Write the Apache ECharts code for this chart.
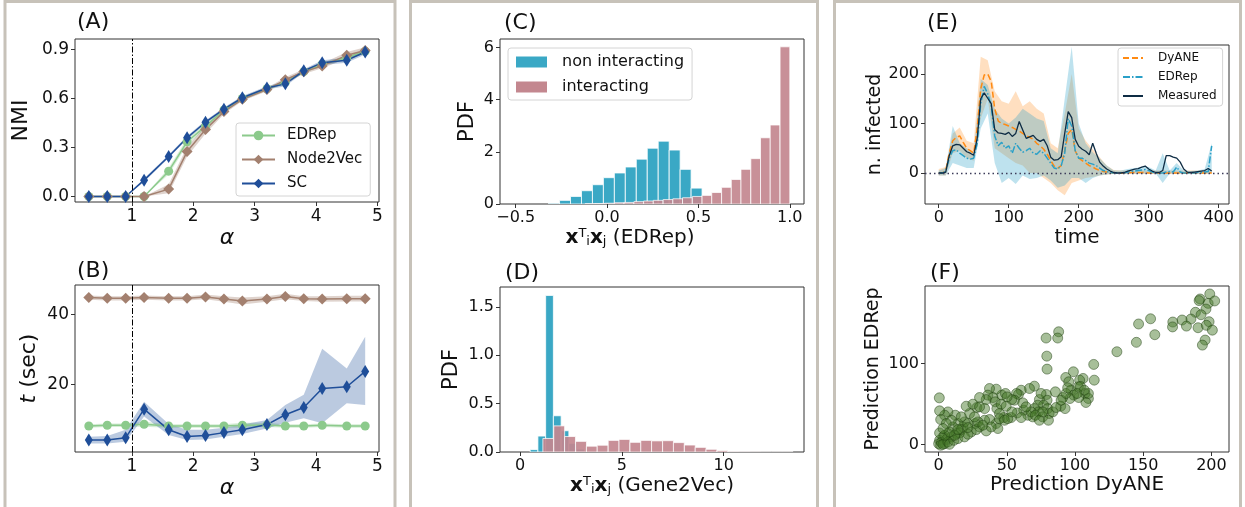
<!DOCTYPE html>
<html>
<head>
<meta charset="utf-8">
<script src="https://cdn.jsdelivr.net/npm/echarts@6/dist/echarts.min.js"></script>
<style>
  html, body { margin: 0; padding: 0; background: #fff; }
  #chart { width: 1245px; height: 507px; }
</style>
</head>
<body>
<div id="chart"></div>
<script>
// ---- data ----
const alpha = [0.3, 0.6, 0.9, 1.2, 1.6, 1.9, 2.2, 2.5, 2.8, 3.2, 3.5, 3.8, 4.1, 4.5, 4.8]

// (A) NMI
const nmiEDRep   = [0, 0, 0, 0.0, 0.155, 0.335, 0.43, 0.53, 0.6, 0.66, 0.7, 0.765, 0.81, 0.85, 0.89]
const nmiEDRepLo = [0, 0, 0, 0.0, 0.135, 0.315, 0.415, 0.52, 0.59, 0.65, 0.69, 0.755, 0.80, 0.84, 0.875]
const nmiEDRepHi = [0, 0, 0, 0.0, 0.175, 0.355, 0.445, 0.54, 0.61, 0.67, 0.71, 0.775, 0.82, 0.86, 0.905]
const nmiN2V     = [0, 0, 0, 0.0, 0.045, 0.275, 0.41, 0.52, 0.595, 0.655, 0.715, 0.765, 0.80, 0.865, 0.895]
const nmiN2VLo   = [0, 0, 0, 0.0, 0.02, 0.245, 0.385, 0.505, 0.585, 0.645, 0.70, 0.75, 0.785, 0.845, 0.875]
const nmiN2VHi   = [0, 0, 0, 0.0, 0.075, 0.305, 0.435, 0.535, 0.605, 0.665, 0.73, 0.78, 0.815, 0.885, 0.915]
const nmiSC      = [0, 0, 0, 0.10, 0.245, 0.36, 0.455, 0.535, 0.605, 0.665, 0.69, 0.77, 0.82, 0.835, 0.885]
const nmiSCLo    = [0, 0, 0, 0.09, 0.235, 0.35, 0.445, 0.525, 0.595, 0.655, 0.675, 0.76, 0.805, 0.82, 0.87]
const nmiSCHi    = [0, 0, 0, 0.11, 0.255, 0.37, 0.465, 0.545, 0.615, 0.675, 0.705, 0.78, 0.835, 0.85, 0.9]

// (B) time in seconds
const tEDRep   = [8.1, 8.3, 8.3, 8.6, 8.1, 8.1, 8.1, 8.1, 8.3, 8.4, 8.1, 8.1, 8.3, 8.1, 8.1]
const tEDRepLo = [7.6, 7.8, 7.8, 7.9, 7.6, 7.6, 7.6, 7.6, 7.6, 7.8, 7.6, 7.6, 7.8, 7.6, 7.6]
const tEDRepHi = [8.6, 8.8, 8.8, 9.3, 8.6, 8.6, 8.6, 8.6, 9.0, 9.0, 8.6, 8.6, 8.8, 8.6, 8.6]
const tN2V     = [44.8, 44.6, 44.6, 44.8, 44.6, 44.6, 45.0, 44.4, 43.8, 44.4, 45.1, 44.5, 44.4, 44.5, 44.5]
const tN2VLo   = [44.2, 44.0, 44.0, 44.2, 44.0, 44.0, 44.3, 43.6, 42.8, 43.6, 44.3, 43.8, 43.6, 43.7, 43.7]
const tN2VHi   = [45.4, 45.2, 45.2, 45.4, 45.2, 45.2, 45.7, 45.2, 44.8, 45.2, 45.9, 45.2, 45.2, 45.3, 45.3]
const tSC      = [4.1, 4.1, 4.7, 12.9, 7.0, 5.1, 5.4, 6.2, 7.0, 8.5, 11.3, 13.4, 18.8, 19.3, 23.7]
const tSCLo    = [3.1, 3.1, 3.6, 10.8, 5.5, 4.1, 4.2, 5.0, 5.8, 7.4, 9.0, 10.3, 8.9, 14.6, 14.1]
const tSCHi    = [5.0, 5.2, 7.0, 15.0, 8.7, 7.0, 7.0, 7.6, 8.5, 9.8, 14.1, 17.0, 30.2, 24.5, 33.6]

// (C) histogram EDRep, bin left edges and heights
const cNonLeft  = [-0.32, -0.26, -0.20, -0.14, -0.08, -0.02, 0.04, 0.10, 0.16, 0.22, 0.28, 0.34, 0.40, 0.46]
const cNonPdf   = [0.03, 0.14, 0.29, 0.51, 0.74, 1.01, 1.19, 1.42, 1.72, 2.14, 2.41, 2.07, 1.33, 0.61]
const cNonWidth = 0.06
const cIntLeft  = [-0.12, -0.067, -0.013, 0.04, 0.093, 0.147, 0.2, 0.253, 0.307, 0.36, 0.413, 0.467, 0.52, 0.573, 0.627, 0.68, 0.733, 0.787, 0.84, 0.893, 0.947]
const cIntPdf   = [0.01, 0.02, 0.03, 0.05, 0.06, 0.09, 0.115, 0.14, 0.17, 0.2, 0.24, 0.29, 0.33, 0.44, 0.64, 0.94, 1.33, 1.74, 2.54, 3.03, 6.03]
const cIntWidth = 0.0533

// (D) histogram Gene2Vec
const dNonLeft  = [0.5, 0.88, 1.26, 1.64, 2.02, 2.40, 2.78]
const dNonPdf   = [0.025, 0.165, 1.62, 0.375, 0.22, 0.09, 0.03]
const dNonWidth = 0.38
const dIntLeft  = [1.124, 1.658, 2.19, 2.73, 3.26, 3.79, 4.33, 4.86, 5.40, 5.93, 6.46, 7.00, 7.53, 8.07, 8.60, 9.13, 9.67, 10.20, 10.74, 11.27, 11.80, 12.34, 12.87]
const dIntPdf   = [0.14, 0.27, 0.16, 0.11, 0.06, 0.07, 0.12, 0.13, 0.10, 0.12, 0.115, 0.117, 0.097, 0.072, 0.048, 0.028, 0.014, 0.006, 0.003, 0.002, 0.001, 0.001, 0.001]
const dIntWidth = 0.534

// (E) epidemic curves
const eTime = [0, 5, 10, 15, 20, 25, 30, 35, 40, 45, 50, 55, 60, 65, 70, 75, 80, 85, 90, 95,
  100, 105, 110, 115, 120, 125, 130, 135, 140, 145, 150, 155, 160, 165, 170, 175, 180, 185, 190, 195,
  200, 205, 210, 215, 220, 225, 230, 235, 240, 245, 250, 255, 260, 265, 270, 275, 280, 285, 290, 295,
  300, 305, 310, 315, 320, 325, 330, 335, 340, 345, 350, 355, 360, 365, 370, 375, 380, 385, 390]
const measured = [0, 0, 2, 35, 55, 58, 57, 50, 43, 40, 36, 70, 150, 162, 151, 140, 88, 81, 80, 78,
  82, 74, 80, 104, 87, 70, 73, 76, 68, 64, 68, 55, 32, 26, 27, 33, 80, 124, 112, 68,
  54, 48, 44, 37, 60, 40, 22, 14, 8, 4, 1, 0, 0, 1, 4, 6, 8, 9, 12, 14,
  8, 4, 1, 1, 5, 35, 35, 32, 30, 22, 8, 2, 1, 2, 3, 4, 5, 9, 4]
const dyane = [0, 0, 5, 40, 65, 72, 75, 62, 50, 45, 40, 90, 170, 198, 200, 185, 130, 105, 100, 98,
  95, 92, 88, 85, 80, 75, 72, 68, 60, 55, 48, 38, 25, 14, 10, 15, 45, 80, 88, 45,
  30, 25, 20, 15, 12, 8, 5, 3, 2, 1, 0, 0, 0, 0, 0, 1, 1, 1, 1, 1,
  0, 0, 0, 0, 0, 0, 0, 0, 0, 0, 0, 0, 0, 0, 0, 0, 0, 1, 0]
const edrep = [0, 0, 3, 30, 45, 47, 40, 35, 30, 28, 30, 60, 140, 175, 160, 135, 75, 55, 62, 50,
  55, 40, 60, 50, 42, 45, 50, 40, 38, 45, 40, 30, 20, 10, 8, 15, 40, 110, 95, 45,
  30, 30, 25, 20, 18, 15, 10, 5, 3, 1, 0, 0, 0, 0, 2, 3, 4, 5, 6, 7,
  5, 2, 0, 0, 0, 2, 3, 2, 12, 2, 0, 0, 0, 0, 1, 1, 2, 3, 55]
const bandTime = [0, 10, 20, 30, 40, 50, 60, 70, 80, 90, 100, 110, 120, 130, 140, 150, 160, 170, 180, 190,
  200, 210, 220, 230, 240, 250, 260, 270, 280, 290, 300, 310, 320, 330, 340, 350, 360, 370, 380, 390]
const dyaneLo = [-5, -5, 40, 45, 30, 25, 110, 150, 50, 40, 30, 20, 15, 0, 0, -10, -20, -35, -45, -20,
  -15, -10, -8, -5, -3, -2, -2, -2, -2, -2, -2, -2, -2, -2, -2, -2, -2, -2, -2, -2]
const dyaneHi = [8, 12, 80, 92, 65, 60, 235, 228, 165, 145, 140, 165, 135, 145, 130, 120, 60, 50, 120, 200,
  90, 65, 48, 32, 15, 6, 5, 5, 5, 5, 5, 5, 5, 5, 5, 5, 5, 5, 5, 5]
const edrepLo = [-5, -5, 20, 15, 10, 10, 90, 120, 20, -20, -10, -22, -5, -12, -10, -5, -15, -30, -25, -10,
  -10, -20, -10, -5, -3, -1, -1, -1, -1, -1, -1, -1, -20, -1, -1, -1, -1, -1, -1, -1]
const edrepHi = [5, 10, 95, 60, 50, 40, 190, 178, 130, 110, 100, 112, 130, 120, 110, 105, 50, 40, 150, 255,
  100, 60, 42, 30, 15, 5, 5, 8, 10, 12, 12, 5, 40, 5, 20, 5, 4, 5, 8, 60]

// (F) predictions
const fDyANE = [198.8, 191.7, 191, 197.6, 202.4, 196, 188.3, 192.4, 185, 178.5, 171.7, 171.5, 181.7, 190.2, 198.3, 196.3, 200.7, 195.4, 193.4,
  155.4, 146.6, 158.5, 145, 130.7, 88, 87.3, 78.8, 79.3, 79.5, 113.7, 114.1, 98.8, 93.2, 105.9, 103.4, 95.4, 97, 102.4, 107.3, 109.8,
  108, 99, 96.3, 91, 89.5, 92.7, 85.6, 79, 79.5, 73.9, 77, 72.7, 70.2, 73.2, 80, 81, 76.3, 69, 80.5, 65.4, 62.4, 70.2, 66.6, 60.5,
  58.5, 57.1, 55.6, 61.7, 53.6, 57.6, 53.2, 47.8, 46.3, 49, 50.2, 42.2, 37.3, 36.1, 39.8, 34.9, 30, 28, 33.7, 41.5, 42.7, 45.8, 44.6,
  42.2, 43.4, 44.6, 37.3, 33.7, 30, 26.8, 22.7, 20.2, 25.1, 30, 21.5, 17.8, 19, 14.1, 12.2, 6.8, 4.4, 0.5, 0.7, 1.5, 10.5, 6.8, 3.2,
  5.6, 9.3, 13, 0.7, 0, 2, 4.4, 0.7, 15.4, 16.6, 23.9, 27.6, 34.9, 38.5, 48.3, 50.7, 53.7, 49.5, 67.8, 71, 73.9, 76.3, 60.5, 64.1,
  75.1, 83.7, 86.1, 89.8, 93.4, 94.6, 104, 109.8, 106.8, 102.7, 101.5, 1.5, 3.2, 6.8, 8, 11.2, 14.1, 19, 21.5, 4.4, 11.7, 8, 14.1,
  21.5, 28.8, 32.4, 26.3, 16.6, 9.3, 5.6, 3.2]
const fEDRep = [185.6, 179.4, 177.4, 174, 177, 167, 163, 160, 154.7, 153.5, 151, 145, 146, 144, 151.4, 147, 141, 128.8, 122.6,
  155, 148.6, 135.4, 126, 114.4, 139, 131.3, 131.3, 109, 93, 98.8, 79.4, 89.7, 82.7, 81.5, 79.4, 77.4, 67, 71.2, 63, 56.8,
  51.9, 61, 56.8, 58, 47.3, 44.4, 65, 61.7, 54.7, 55.5, 48.6, 48.6, 44.4, 40.3, 44.4, 38.3, 34.2, 34.2, 30, 36.2, 42.4, 72, 69.1, 67,
  61.7, 63, 54.7, 51.4, 55.5, 39, 33.3, 33.3, 61, 63, 58.8, 68.3, 69.1, 61, 58, 55.5, 58, 45.7, 44.4, 52.7, 44.4, 49.8, 38.3,
  26, 19.8, 32, 30.9, 30, 21.8, 26, 38.3, 47.3, 49.8, 46.5, 26, 21.8, 28, 26, 36.2, 40.3, 36.2, 57.6, 41.6, 30.9, 21.8, 13.6, 9.5,
  6.2, 9.5, 13.6, 5.3, 1.2, 2.5, 1.2, 14.4, 14.4, 18.5, 15.6, 18.5, 16.9, 21.8, 30, 32, 40.3, 47.3, 40.3, 36.2, 30, 40.3, 33.3, 46.5,
  63, 40.3, 45.7, 54.7, 63, 70, 71.6, 63, 67, 58, 63, -0.8, 0.4, 3.3, 0.4, 5.3, 7.4, 9.5, 12.8, 11.5, 11.5, 15.6, 18.5,
  21, 28, 23.9, 34.2, 34.2, 30, 26, 19.8]

// ---- styling ----
const FONT = 'DejaVu Sans'
const GREEN = '#8cca8c', BROWN = '#a3806f', SCBLUE = '#1f4e99'
const HBLUE = '#3aa8c5', HPINK = '#c3878f'
const ORANGE = '#ff8a12', EBLUE = '#2aa0c8', MEAS = '#0e2c44'

const chart = echarts.init(document.getElementById('chart'), null, { renderer: 'canvas' })

const grids = [
  { left: 75, top: 39, width: 304, height: 163 },   // A
  { left: 75, top: 285, width: 304, height: 167 },  // B
  { left: 500, top: 39, width: 304, height: 165 },  // C
  { left: 500, top: 287, width: 304, height: 165 }, // D
  { left: 925, top: 45, width: 304, height: 159 },  // E
  { left: 925, top: 286, width: 304, height: 166 }  // F
].map(g => Object.assign({ show: true, borderColor: '#333', borderWidth: 1, backgroundColor: 'transparent', outerBoundsMode: 'none' }, g))

function axis(gi, min, max, ticks, fmt, size, extra) {
  return Object.assign({
    type: 'value', gridIndex: gi, min, max,
    axisLine: { show: false, onZero: false },
    splitLine: { show: false },
    axisTick: { show: true, customValues: ticks, length: 4, lineStyle: { color: '#333' } },
    axisLabel: { customValues: ticks, formatter: fmt, fontFamily: FONT, fontSize: size, color: '#111', margin: 6 },
    nameTextStyle: { fontFamily: FONT, color: '#111' }
  }, extra || {})
}
const fix1 = v => v.toFixed(1)
const signed = v => (v < 0 ? '\u2212' : '') + Math.abs(v).toFixed(1)
const int = v => String(Math.round(v))

const xmath = {
  b: { fontFamily: FONT, fontWeight: 'bold', fontSize: 20, color: '#111' },
  sup: { fontFamily: FONT, fontSize: 13, color: '#111', verticalAlign: 'top', padding: [0, 0, 8, 0] },
  sub: { fontFamily: FONT, fontSize: 13, color: '#111', verticalAlign: 'bottom', padding: [8, 0, 0, 0] },
  t: { fontFamily: FONT, fontSize: 20, color: '#111' }
}

const xAxes = [
  axis(0, 0.075, 5.025, [1, 2, 3, 4, 5], int, 17, { name: '\u03b1', nameLocation: 'middle', nameGap: 25, nameTextStyle: { fontFamily: FONT, fontSize: 22, fontStyle: 'italic', color: '#111' } }),
  axis(1, 0.075, 5.025, [1, 2, 3, 4, 5], int, 17, { name: '\u03b1', nameLocation: 'middle', nameGap: 25, nameTextStyle: { fontFamily: FONT, fontSize: 22, fontStyle: 'italic', color: '#111' } }),
  axis(2, -0.586, 1.078, [-0.5, 0, 0.5, 1], signed, 16, { name: '{b|x}{sup|T}{sub|i}{b|x}{sub|j}{t| (EDRep)}', nameLocation: 'middle', nameGap: 22, nameTextStyle: { rich: xmath, padding: [0, 44, 0, 0] } }),
  axis(3, -0.98, 13.94, [0, 5, 10], int, 16, { name: '{b|x}{sup|T}{sub|i}{b|x}{sub|j}{t| (Gene2Vec)}', nameLocation: 'middle', nameGap: 22, nameTextStyle: { rich: xmath } }),
  axis(4, -19.6, 414.7, [0, 100, 200, 300, 400], int, 16, { name: 'time', nameLocation: 'middle', nameGap: 24, nameTextStyle: { fontFamily: FONT, fontSize: 20, color: '#111' } }),
  axis(5, -10, 212.9, [0, 50, 100, 150, 200], int, 16, { name: 'Prediction DyANE', nameLocation: 'middle', nameGap: 23, nameTextStyle: { fontFamily: FONT, fontSize: 20, color: '#111' } })
]
const yAxes = [
  axis(0, -0.034, 0.965, [0, 0.3, 0.6, 0.9], fix1, 17, { name: 'NMI', nameLocation: 'middle', nameGap: 43, nameTextStyle: { fontFamily: FONT, fontSize: 22, color: '#111' } }),
  axis(1, 0.66, 48.4, [20, 40], int, 17, { name: '{i|t} (sec)', nameLocation: 'middle', nameGap: 35, nameTextStyle: { fontFamily: FONT, fontSize: 22, color: '#111', rich: { i: { fontFamily: FONT, fontSize: 22, fontStyle: 'italic', color: '#111' } } } }),
  axis(2, 0, 6.33, [0, 2, 4, 6], int, 16, { name: 'PDF', nameLocation: 'middle', nameGap: 22, nameTextStyle: { fontFamily: FONT, fontSize: 21, color: '#111' } }),
  axis(3, 0, 1.707, [0, 0.5, 1, 1.5], fix1, 16, { name: 'PDF', nameLocation: 'middle', nameGap: 38, nameTextStyle: { fontFamily: FONT, fontSize: 21, color: '#111' } }),
  axis(4, -62.6, 258.6, [0, 100, 200], int, 16, { name: 'n. infected', nameLocation: 'middle', nameGap: 33, nameTextStyle: { fontFamily: FONT, fontSize: 19, color: '#111' } }),
  axis(5, -9.1, 195.4, [0, 100], int, 16, { name: 'Prediction EDRep', nameLocation: 'middle', nameGap: 42, nameTextStyle: { fontFamily: FONT, fontSize: 19, color: '#111' } })
]

// shaded band drawn as one polygon
function band(name, xs, lo, hi, fill, gi) {
  return {
    type: 'custom', name, xAxisIndex: gi, yAxisIndex: gi, z: 1, silent: true, clip: true,
    data: xs.map((x, i) => [x, lo[i], hi[i]]),
    encode: { x: 0, y: [1, 2] },
    renderItem: (params, api) => {
      if (params.dataIndex !== 0) return null
      const top = xs.map((x, i) => api.coord([x, hi[i]]))
      const bot = xs.map((x, i) => api.coord([x, lo[i]])).reverse()
      return { type: 'polygon', shape: { points: top.concat(bot) }, style: { fill } }
    }
  }
}

function hist(name, left, width, pdf, color, gi, opacity) {
  return {
    type: 'custom', name, xAxisIndex: gi, yAxisIndex: gi, z: 2, clip: true,
    itemStyle: { color },
    data: left.map((l, i) => [l, l + width, pdf[i]]),
    encode: { x: [0, 1], y: 2 },
    renderItem: (params, api) => {
      const a = api.coord([api.value(0), api.value(2)])
      const b = api.coord([api.value(1), 0])
      return {
        type: 'rect',
        shape: { x: a[0], y: a[1], width: b[0] - a[0], height: b[1] - a[1] },
        style: { fill: color, opacity, stroke: '#fff', lineWidth: 0.8 }
      }
    }
  }
}

const vline = {
  silent: true, symbol: 'none', label: { show: false },
  lineStyle: { color: '#000', type: [6, 2, 1.5, 2], width: 1 },
  data: [{ xAxis: 1 }]
}

function methodLine(name, ys, color, symbol, size, gi, extra) {
  return Object.assign({
    type: 'line', name, xAxisIndex: gi, yAxisIndex: gi, z: 3,
    data: alpha.map((a, i) => [a, ys[i]]),
    symbol, symbolSize: size, showSymbol: true,
    itemStyle: { color },
    lineStyle: { color, width: 1.5 }
  }, extra || {})
}

const series = [
  // A
  band('bA1', alpha, nmiEDRepLo, nmiEDRepHi, 'rgba(140,202,140,0.35)', 0),
  band('bA2', alpha, nmiN2VLo, nmiN2VHi, 'rgba(163,128,111,0.35)', 0),
  band('bA3', alpha, nmiSCLo, nmiSCHi, 'rgba(31,78,153,0.3)', 0),
  methodLine('EDRep', nmiEDRep, GREEN, 'circle', 9, 0),
  methodLine('Node2Vec', nmiN2V, BROWN, 'diamond', [11, 11], 0),
  methodLine('SC', nmiSC, SCBLUE, 'diamond', [8, 13], 0, { markLine: vline }),
  // B
  band('bB1', alpha, tEDRepLo, tEDRepHi, 'rgba(140,202,140,0.35)', 1),
  band('bB2', alpha, tN2VLo, tN2VHi, 'rgba(163,128,111,0.35)', 1),
  band('bB3', alpha, tSCLo, tSCHi, 'rgba(31,78,153,0.3)', 1),
  methodLine('EDRep', tEDRep, GREEN, 'circle', 9, 1),
  methodLine('Node2Vec', tN2V, BROWN, 'diamond', [11, 11], 1),
  methodLine('SC', tSC, SCBLUE, 'diamond', [8, 13], 1, { markLine: vline }),
  // C
  hist('non interacting', cNonLeft, cNonWidth, cNonPdf, HBLUE, 2, 1),
  hist('interacting', cIntLeft, cIntWidth, cIntPdf, HPINK, 2, 0.92),
  // D
  hist('D non interacting', dNonLeft, dNonWidth, dNonPdf, HBLUE, 3, 1),
  hist('D interacting', dIntLeft, dIntWidth, dIntPdf, HPINK, 3, 0.92),
  // E
  band('bE1', bandTime, dyaneLo, dyaneHi, 'rgba(255,140,30,0.28)', 4),
  band('bE2', bandTime, edrepLo, edrepHi, 'rgba(40,160,200,0.3)', 4),
  {
    type: 'line', name: 'E:DyANE', xAxisIndex: 4, yAxisIndex: 4, z: 3, showSymbol: false, symbol: 'none',
    data: eTime.map((t, i) => [t, dyane[i]]),
    itemStyle: { color: ORANGE }, lineStyle: { color: ORANGE, width: 1.5, type: [6, 3] }
  },
  {
    type: 'line', name: 'E:EDRep', xAxisIndex: 4, yAxisIndex: 4, z: 3, showSymbol: false, symbol: 'none',
    data: eTime.map((t, i) => [t, edrep[i]]),
    itemStyle: { color: EBLUE }, lineStyle: { color: EBLUE, width: 1.5, type: [7, 2, 1.5, 2] }
  },
  {
    type: 'line', name: 'E:Measured', xAxisIndex: 4, yAxisIndex: 4, z: 4, showSymbol: false, symbol: 'none',
    data: eTime.map((t, i) => [t, measured[i]]),
    itemStyle: { color: MEAS }, lineStyle: { color: MEAS, width: 1.3 },
    markLine: {
      silent: true, symbol: 'none', label: { show: false },
      lineStyle: { color: '#3c3c5a', type: [1.5, 3], width: 1.3 },
      data: [{ yAxis: 0 }]
    }
  },
  // F
  {
    type: 'scatter', name: 'F', xAxisIndex: 5, yAxisIndex: 5, z: 3,
    data: fDyANE.map((x, i) => [x, fEDRep[i]]),
    symbolSize: 10,
    itemStyle: { color: 'rgba(72,122,42,0.6)', borderColor: 'rgba(30,62,14,0.75)', borderWidth: 0.8 }
  }
]

const legendBox = {
  orient: 'vertical', backgroundColor: 'rgba(255,255,255,0.85)',
  borderColor: '#d4d4d4', borderWidth: 1, borderRadius: 3
}

const legends = [
  Object.assign({}, legendBox, {
    left: 236, top: 123, padding: [5, 8, 5, 5],
    itemWidth: 33, itemHeight: 12, itemGap: 9,
    data: ['EDRep', 'Node2Vec', 'SC'],
    textStyle: { fontFamily: FONT, fontSize: 15, color: '#111', padding: [0, 0, 0, 7] }
  }),
  Object.assign({}, legendBox, {
    left: 508, top: 48, padding: [6, 8, 5, 8],
    itemWidth: 31, itemHeight: 11, itemGap: 9,
    data: [{ name: 'non interacting', icon: 'rect' }, { name: 'interacting', icon: 'rect' }],
    textStyle: { fontFamily: FONT, fontSize: 16, color: '#111', padding: [0, 0, 0, 10] }
  }),
  Object.assign({}, legendBox, {
    left: 1118, top: 48, padding: [4, 6, 4, 4],
    itemWidth: 20, itemHeight: 8, itemGap: 7,
    data: ['E:DyANE', 'E:EDRep', 'E:Measured'],
    formatter: n => n.replace('E:', ''),
    itemStyle: { opacity: 0 },
    textStyle: { fontFamily: FONT, fontSize: 12, color: '#111', padding: [0, 0, 0, 10] }
  })
]

const frameStyle = { stroke: '#c7c2b9', lineWidth: 3, fill: 'none' }
const panelLabel = (text, x, y) => ({ type: 'text', left: x, top: y, style: { text, font: '22px "DejaVu Sans"', fill: '#111' } })

chart.setOption({
  animation: false,
  backgroundColor: '#fff',
  grid: grids,
  xAxis: xAxes,
  yAxis: yAxes,
  legend: legends,
  series,
  graphic: [
    { type: 'rect', shape: { x: 5, y: 1.5, width: 390, height: 530 }, style: frameStyle, silent: true },
    { type: 'rect', shape: { x: 410.5, y: 1.5, width: 407, height: 530 }, style: frameStyle, silent: true },
    { type: 'rect', shape: { x: 834.5, y: 1.5, width: 406, height: 530 }, style: frameStyle, silent: true },
    panelLabel('(A)', 77, 11),
    panelLabel('(B)', 77, 260),
    panelLabel('(C)', 504, 12),
    panelLabel('(D)', 505, 262),
    panelLabel('(E)', 927, 12),
    panelLabel('(F)', 930, 262)
  ]
})

window.addEventListener('resize', () => chart.resize())
</script>
</body>
</html>
